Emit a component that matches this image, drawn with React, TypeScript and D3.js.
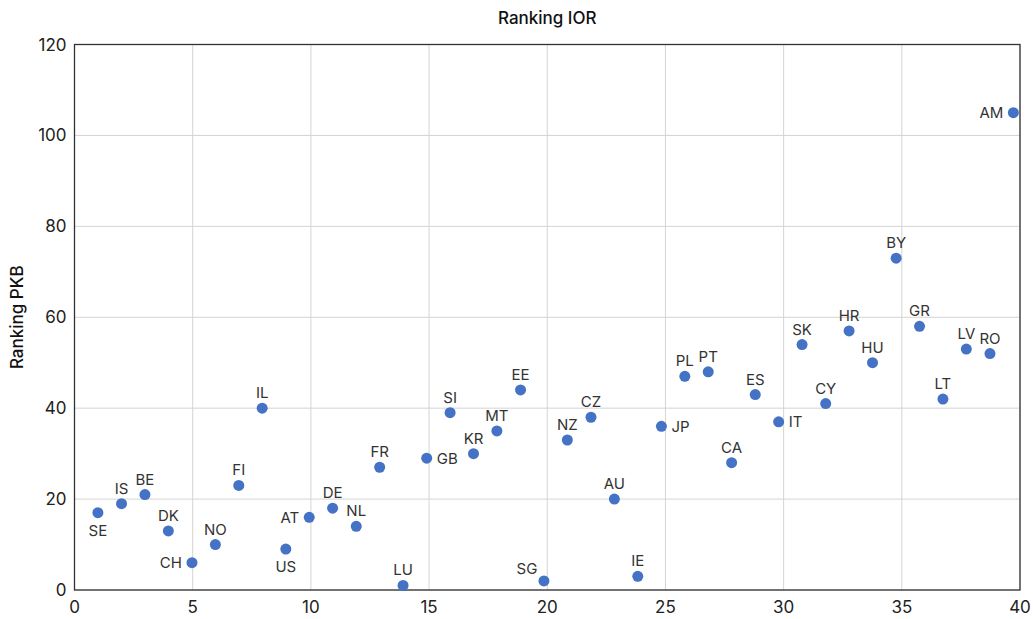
import React from 'react';
import * as d3 from 'd3';

const countries = ['SE', 'IS', 'BE', 'DK', 'CH', 'NO', 'FI', 'IL', 'US', 'AT', 'DE', 'NL', 'FR', 'LU', 'GB', 'SI', 'KR', 'MT', 'EE', 'SG',
    'NZ', 'CZ', 'AU', 'IE', 'JP', 'PL', 'PT', 'CA', 'ES', 'IT', 'SK', 'CY', 'HR', 'HU', 'BY', 'GR', 'LT', 'LV', 'RO', 'AM'];

const rankIOR = [0.99, 1.99, 2.98, 3.97, 4.97, 5.96, 6.95, 7.94, 8.94, 9.93, 10.92, 11.92, 12.91, 13.9, 14.9, 15.89, 16.88, 17.87, 18.87, 19.86,
    20.85, 21.85, 22.84, 23.83, 24.83, 25.82, 26.81, 27.8, 28.8, 29.79, 30.78, 31.78, 32.77, 33.76, 34.76, 35.75, 36.74, 37.73, 38.73, 39.72];

const rankPKB = [17, 19, 21, 13, 6, 10, 23, 40, 9, 16, 18, 14, 27, 1, 29, 39, 30, 35, 44, 2,
    33, 38, 20, 3, 36, 47, 48, 28, 43, 37, 54, 41, 57, 50, 73, 58, 42, 53, 52, 105];

// where each label sits relative to its dot: t = above, b = below, l = left, r = right, tl = above-left
const labelSide: Record<string, string> = {
    SE: 'b', US: 'b', CH: 'l', AT: 'l', AM: 'l', GB: 'r', JP: 'r', IT: 'r', SG: 'tl',
};

const xTicks = [0, 5, 10, 15, 20, 25, 30, 35, 40];
const yTicks = [0, 20, 40, 60, 80, 100, 120];

const W = 1033;
const H = 619;
const margin = { top: 44.5, right: 13, bottom: 29, left: 74.5 };
const font = 'Inter, "Noto Sans", sans-serif';

export default function App() {
    const x = d3.scaleLinear().domain([0, 40]).range([margin.left, W - margin.right]);
    const y = d3.scaleLinear().domain([0, 120]).range([H - margin.bottom, margin.top]);

    const points = countries.map((c, i) => ({ name: c, x: rankIOR[i], y: rankPKB[i] }));

    const labelPos = (p: { name: string; x: number; y: number }) => {
        const px = x(p.x);
        const py = y(p.y);
        const side = labelSide[p.name] || 't';
        if (side === 'b') return { x: px, y: py + 23, anchor: 'middle' };
        if (side === 'l') return { x: px - 10, y: py + 5.5, anchor: 'end' };
        if (side === 'r') return { x: px + 10, y: py + 5.5, anchor: 'start' };
        if (side === 'tl') return { x: px - 17, y: py - 7, anchor: 'middle' };
        return { x: px, y: py - 10, anchor: 'middle' };
    };

    return (
        <svg width={W} height={H} style={{ position: 'absolute', left: 0, top: 0, background: '#fff' }} fontFamily={font}>
            {/* grid */}
            {xTicks.map(t => (
                <line key={'gx' + t} x1={x(t)} x2={x(t)} y1={y(0)} y2={y(120)} stroke="#d4d4d4" strokeWidth={1} />
            ))}
            {yTicks.map(t => (
                <line key={'gy' + t} x1={x(0)} x2={x(40)} y1={y(t)} y2={y(t)} stroke="#d4d4d4" strokeWidth={1} />
            ))}
            {/* frame */}
            <rect x={x(0)} y={y(120)} width={x(40) - x(0)} height={y(0) - y(120)} fill="none" stroke="#333" strokeWidth={1.3} />

            {/* tick labels */}
            {xTicks.map(t => (
                <text key={'tx' + t} x={x(t)} y={y(0) + 23} textAnchor="middle" fontSize={17} fill="#222">{t}</text>
            ))}
            {yTicks.map(t => (
                <text key={'ty' + t} x={x(0) - 8} y={y(t) + 6} textAnchor="end" fontSize={17} fill="#222">{t}</text>
            ))}

            {/* titles */}
            <text x={(x(0) + x(40)) / 2} y={24} textAnchor="middle" fontSize={17} fontWeight={500} fill="#111">Ranking IOR</text>
            <text transform={`translate(23,${(y(0) + y(120)) / 2}) rotate(-90)`} textAnchor="middle" fontSize={17} fontWeight={500} fill="#111">Ranking PKB</text>

            {/* points */}
            {points.map(p => (
                <circle key={p.name} cx={x(p.x)} cy={y(p.y)} r={5.5} fill="#4472C4" />
            ))}
            {points.map(p => {
                const l = labelPos(p);
                return (
                    <text key={'l' + p.name} x={l.x} y={l.y} textAnchor={l.anchor} fontSize={15} fill="#333">{p.name}</text>
                );
            })}
        </svg>
    );
}
